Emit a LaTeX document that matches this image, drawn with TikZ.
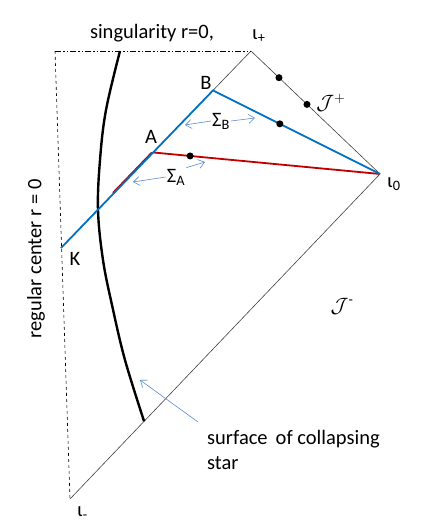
\documentclass[tikz,border=0pt]{standalone}
\usepackage{fontspec}
\setmainfont{Carlito}
\usetikzlibrary{calc, arrows.meta}
\definecolor{lineBlue}{HTML}{0070C0}
\definecolor{lineRed}{HTML}{C00000}
\definecolor{noteBlue}{HTML}{5B8BD0}

\begin{document}
\begin{tikzpicture}[
    x=1pt, y=-1pt,
    thinline/.style={draw=black!75, line width=0.6pt},
    bluepath/.style={draw=lineBlue, line width=1.8pt},
    redpath/.style={draw=lineRed, line width=1.8pt},
    notearrow/.style={draw=noteBlue, line width=0.6pt, -{Straight Barb[length=6pt, width=9pt]}},
    dotmark/.style={circle, fill=black, inner sep=0pt, minimum size=7pt},
    lbl/.style={font=\fontsize{20.5}{25}\selectfont, inner sep=1pt}
]
    \useasboundingbox (0,0) rectangle (422,529);

    % ==========================================
    % 1. CORNERS OF THE DIAGRAM
    % ==========================================
    \coordinate (iplus)  at (251, 51);
    \coordinate (izero)  at (380, 174);
    \coordinate (iminus) at (70, 499);
    \coordinate (topleft) at (55, 51);
    \coordinate (kend)   at (61, 248);
    \coordinate (bpt) at ($(iplus)!0.2!(kend)$);
    \coordinate (apt) at ($(iplus)!0.515!(kend)$);
    \coordinate (redend) at ($(iplus)!0.72!(kend)$);
    \coordinate (starend) at ($(izero)!0.761!(iminus)$);

    % ==========================================
    % 2. BOUNDARY LINES
    % ==========================================
    \draw[thinline] (iplus) -- (izero) -- (iminus);
    \draw[thinline] (iplus) -- (bpt);
    \draw[black, line width=0.6pt, dashed] (topleft) -- (iminus);
    \draw[black, line width=0.6pt, dash pattern=on 6pt off 2pt on 1.5pt off 2pt on 1.5pt off 2pt] (topleft) -- (iplus);

    % surface of the star
    \draw[black, line width=2.4pt] plot[smooth, tension=0.6] coordinates {(120,51) (106,110) (100,160) (98,210) (103,260) (112,305) (125,360) (starend)};

    % ==========================================
    % 3. SLICES
    % ==========================================
    \draw[redpath] ([xshift=-1.2pt]apt) -- ([xshift=-1.2pt]redend);
    \draw[redpath] (apt) -- (izero);
    \draw[bluepath] (kend) -- (bpt) -- (izero);

    % dots
    \node[dotmark] (dota) at ($(iplus)!0.217!(izero)$) {};
    \node[dotmark] (dotb) at ($(iplus)!0.434!(izero)$) {};
    \node[dotmark] (dotc) at ($(bpt)!0.4!(izero)$) {};
    \node[dotmark] (dotd) at ($(apt)!0.163!(izero)$) {};

    % ==========================================
    % 4. LABELS
    % ==========================================
    \node[lbl] (sing) at (152, 33) {singularity r=0,};
    \node[lbl, anchor=west] (lplus) at (251, 36) {ι\textsubscript{+}};
    \node[lbl, anchor=west] (lzero) at (386, 184) {ι\textsubscript{0}};
    \node[lbl, anchor=west] (lminus) at (76, 513) {ι\textsubscript{-}};
    \node[lbl] (lb) at (206, 83) {B};
    \node[lbl] (la) at (151, 137) {A};
    \node[lbl] (lk) at (75, 259) {K};
    \node[lbl] (jplus) at (331, 103) {$\mathcal{J}^{+}$};
    \node[lbl] (jminus) at (342, 306) {$\mathcal{J}$\textsuperscript{-}};
    \node[lbl, rotate=90] (center) at (36, 259) {regular center r = 0};
    \node[lbl, align=left, anchor=north west] (surf) at (206, 429) {surface\, of collapsing\\star};

    \node[lbl] (sigb) at (221, 121) {Σ\textsubscript{B}};
    \node[lbl] (siga) at (176, 177) {Σ\textsubscript{A}};

    % ==========================================
    % 5. POINTER ARROWS
    % ==========================================
    \coordinate (sigbl) at (185, 125);
    \coordinate (sigbr) at (255, 118);
    \coordinate (sigal) at (133, 182);
    \coordinate (sigar) at (205, 162);
    \coordinate (surftail) at (198, 422);
    \coordinate (surftip) at (140, 380);
    \draw[notearrow] (sigb.west) -- (sigbl);
    \draw[notearrow] (sigb.east) -- (sigbr);
    \draw[notearrow] (siga.west) -- (sigal);
    \draw[notearrow] (siga.north east) -- (sigar);
    \draw[notearrow] (surftail) -- (surftip);

\end{tikzpicture}
\end{document}
